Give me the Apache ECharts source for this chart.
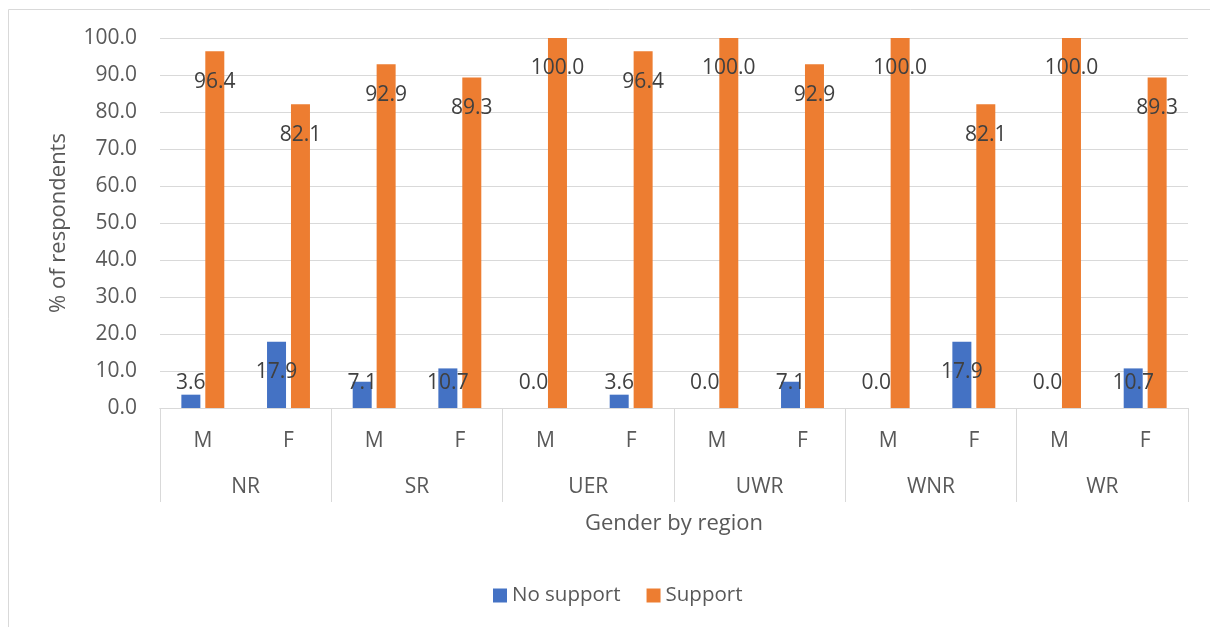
<!DOCTYPE html>
<html><head><meta charset="utf-8">
<script src="https://cdn.jsdelivr.net/npm/echarts@6/dist/echarts.min.js"></script>
<style>html,body{margin:0;padding:0;background:#fff}#c{width:1210px;height:627px}</style>
</head><body><div id="c"></div>
<script>
const genders = ['M','F','M','F','M','F','M','F','M','F','M','F'];
const regions = ['NR','SR','UER','UWR','WNR','WR'];
const noSupport = [3.6,17.9,7.1,10.7,0.0,3.6,0.0,7.1,0.0,17.9,0.0,10.7];
const support = [96.4,82.1,92.9,89.3,100.0,96.4,100.0,92.9,100.0,82.1,100.0,89.3];
const yTicks = [0,10,20,30,40,50,60,70,80,90,100];

const FONT = 'Open Sans';
const GRAY = '#d9d9d9';
const TXT = '#595959';

function withLabels(vals){
  return vals.map(v => ({
    value: v,
    label: v > 14.3 ? {position:'insideTop', distance:20} : {position:'insideBottom', distance:14}
  }));
}

const chart = echarts.init(document.getElementById('c'), null, {renderer:'canvas'});
chart.setOption({
  animation:false,
  textStyle:{fontFamily:FONT},
  graphic:[{type:'rect', shape:{x:8.5,y:9.5,width:1400,height:800}, style:{fill:'none', stroke:GRAY, lineWidth:1}, silent:true, z:-1}],
  grid:{left:160, right:22, top:38, bottom:219},
  legend:{
    data:['No support','Support'], left:493, top:585, padding:0, icon:'rect', itemWidth:14, itemHeight:14, itemGap:26,
    textStyle:{fontFamily:FONT, fontSize:20.5, color:TXT}
  },
  xAxis:[
    {type:'category', data:genders, gridIndex:0, position:'bottom',
     axisLine:{show:true, lineStyle:{color:GRAY, width:1}}, axisTick:{show:false},
     axisLabel:{margin:23, fontFamily:FONT, fontSize:21, color:TXT, interval:0}},
    {type:'category', data:regions, gridIndex:0, position:'bottom',
     axisLine:{show:true, lineStyle:{color:GRAY, width:1}},
     axisTick:{show:true, length:94, interval:0, lineStyle:{color:GRAY, width:1}},
     axisLabel:{margin:69, fontFamily:FONT, fontSize:21, color:TXT, interval:0},
     name:'Gender by region', nameLocation:'middle', nameGap:105,
     nameTextStyle:{fontFamily:FONT, fontSize:22, color:TXT}}
  ],
  yAxis:{type:'value', min:yTicks[0], max:yTicks[yTicks.length-1], interval:10,
    axisLine:{show:false}, axisTick:{show:false},
    splitLine:{lineStyle:{color:GRAY, width:1}},
    axisLabel:{margin:23, fontFamily:FONT, fontSize:21, color:TXT, formatter:v=>v.toFixed(1)},
    name:'% of respondents', nameLocation:'middle', nameGap:90,
    nameTextStyle:{fontFamily:FONT, fontSize:22, color:TXT}},
  series:[
    {name:'No support', type:'bar', xAxisIndex:0, data:withLabels(noSupport), barWidth:19, barGap:'26%',
     itemStyle:{color:'#4472C4'},
     label:{show:true, fontFamily:FONT, fontSize:21, color:'#404040', formatter:p=>p.value.toFixed(1)}},
    {name:'Support', type:'bar', xAxisIndex:0, data:withLabels(support), barWidth:19, barGap:'26%',
     itemStyle:{color:'#ED7D31'},
     label:{show:true, fontFamily:FONT, fontSize:21, color:'#404040', formatter:p=>p.value.toFixed(1)}}
  ]
});
</script></body></html>
